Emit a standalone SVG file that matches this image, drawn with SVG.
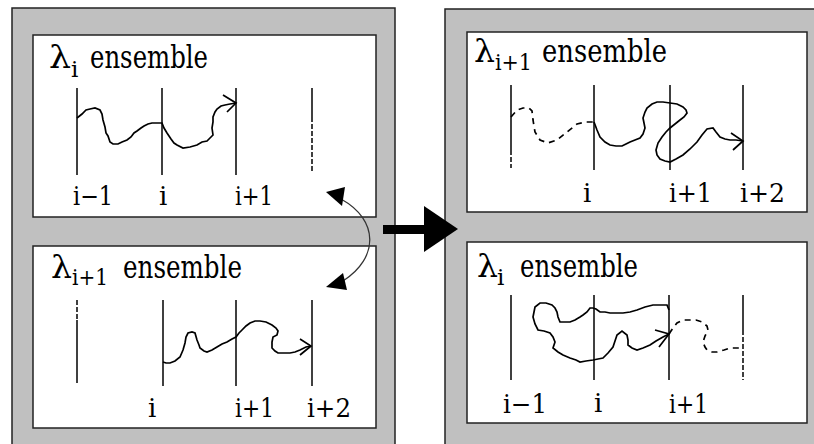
<svg xmlns="http://www.w3.org/2000/svg" width="814" height="444" viewBox="0 0 814 444">
<defs>
<style>
.panel{fill:#c0c0c0;stroke:#222;stroke-width:1.5}
.box{fill:#fff;stroke:#222;stroke-width:1.5}
.ln{stroke:#000;stroke-width:1.5;fill:none}
.dl{stroke:#000;stroke-width:1.5;fill:none;stroke-dasharray:5 2}
.walk{stroke:#000;stroke-width:1.7;fill:none;stroke-linejoin:miter}
.dwalk{stroke:#000;stroke-width:1.7;fill:none;stroke-dasharray:6 5}
.big{font-size:31px}
.sub{font-size:23px}
.lab{font-size:26px}
</style>
</defs>
<rect width="814" height="444" fill="#fff"/>
<g id="left-panel">
<rect class="panel" x="12" y="8" width="383" height="445"/>
</g>
<g id="right-panel">
<rect class="panel" x="445" y="9" width="380" height="445"/>
</g>

<g id="box-left-top" font-family="DejaVu Serif, serif">
<rect class="box" x="33" y="35" width="343" height="182"/>
<text class="big" x="49" y="68" textLength="22" lengthAdjust="spacingAndGlyphs">λ</text><text class="sub" x="71" y="77">i</text>
<text class="big" x="90" y="68" textLength="118" lengthAdjust="spacingAndGlyphs">ensemble</text>
<line class="ln" x1="77" y1="88" x2="77" y2="175"/>
<line class="ln" x1="162" y1="88" x2="162" y2="175"/>
<line class="ln" x1="236" y1="88" x2="236" y2="175"/>
<line class="ln" x1="312" y1="88" x2="312" y2="117"/>
<line class="dl" x1="312" y1="117" x2="312" y2="173"/>
<polyline class="walk" points="77,118 82,114 86,110 90,109 95,108 100,110 102,114 103,120 105,127 106,133 108,136 110,142 113,144 118,144 122,142 127,140 131,137 134,133 137,131 141,128 144,126 148,124 152,123 157,123 162,123 164,128 167,133 171,139 174,143 177,145 183,148 190,147 197,145 202,142 207,141 210,138 213,135 212,128 213,122 213,117 215,112 217,109 221,106 225,105 230,104 236,103"/>
<polyline class="walk" points="223,95 236,103 227,112"/>
<text class="lab" x="73" y="205" textLength="40" lengthAdjust="spacingAndGlyphs">i−1</text>
<text class="lab" x="159" y="205">i</text>
<text class="lab" x="235" y="205" textLength="38" lengthAdjust="spacingAndGlyphs">i+1</text>
</g>

<g id="box-left-bottom" font-family="DejaVu Serif, serif">
<rect class="box" x="33" y="246" width="343" height="182"/>
<text class="big" x="51" y="278" textLength="21" lengthAdjust="spacingAndGlyphs">λ</text><text class="sub" x="72" y="285" textLength="36" lengthAdjust="spacingAndGlyphs">i+1</text>
<text class="big" x="123" y="278" textLength="119" lengthAdjust="spacingAndGlyphs">ensemble</text>
<line class="dl" x1="77" y1="300" x2="77" y2="320"/>
<line class="ln" x1="77" y1="320" x2="77" y2="383"/>
<line class="ln" x1="163" y1="300" x2="163" y2="386"/>
<line class="ln" x1="236" y1="300" x2="236" y2="386"/>
<line class="ln" x1="312" y1="300" x2="312" y2="386"/>
<polyline class="walk" points="163,362 166,363 170,363 175,361 180,357 183,350 185,343 186,337 188,333 192,332 195,333 197,340 199,345 200,348 204,351 207,352 212,350 217,347 222,344 227,342 232,339 236,337 239,333 242,330 246,326 250,323 255,321 260,321 266,322 272,325 276,328 278,331 277,335 273,337 272,342 272,348 275,351 278,353 284,353 290,353 295,352 300,350 306,347 311,346"/>
<polyline class="walk" points="300,339 311,346 300,355"/>
<text class="lab" x="148" y="417">i</text>
<text class="lab" x="235" y="417" textLength="39" lengthAdjust="spacingAndGlyphs">i+1</text>
<text class="lab" x="307" y="417" textLength="44" lengthAdjust="spacingAndGlyphs">i+2</text>
</g>

<g id="box-right-top" font-family="DejaVu Serif, serif">
<rect class="box" x="467" y="32" width="340" height="180"/>
<text class="big" x="474" y="62" textLength="21" lengthAdjust="spacingAndGlyphs">λ</text><text class="sub" x="495" y="70" textLength="37" lengthAdjust="spacingAndGlyphs">i+1</text>
<text class="big" x="542" y="62" textLength="125" lengthAdjust="spacingAndGlyphs">ensemble</text>
<line class="ln" x1="511" y1="85" x2="511" y2="150"/>
<line class="dl" x1="511" y1="150" x2="511" y2="168"/>
<line class="ln" x1="594" y1="85" x2="594" y2="170"/>
<line class="ln" x1="670" y1="85" x2="670" y2="170"/>
<line class="ln" x1="743" y1="85" x2="743" y2="170"/>
<polyline class="dwalk" points="511,117 517,110 523,108 529,108 532,111 533,120 535,132 540,140 548,143 557,140 567,132 577,124 586,122 594,122"/>
<polyline class="walk" points="594,122 597,130 600,137 605,142 610,145 616,146 622,146 626,144 630,142 635,140 640,138 643,134 645,128 644,123 643,118 645,112 647,108 652,104 657,102 663,102 670,103 677,104 683,107 686,110 687,113 684,117 680,120 675,124 670,128 666,132 662,137 658,143 656,150 657,155 660,159 665,161 670,162 676,159 683,155 690,149 697,142 702,135 707,129 713,128 716,132 720,137 725,139 730,140 736,140 743,141"/>
<polyline class="walk" points="731,133 743,141 733,150"/>
<text class="lab" x="583" y="202">i</text>
<text class="lab" x="669" y="202" textLength="43" lengthAdjust="spacingAndGlyphs">i+1</text>
<text class="lab" x="740" y="202" textLength="45" lengthAdjust="spacingAndGlyphs">i+2</text>
</g>

<g id="box-right-bottom" font-family="DejaVu Serif, serif">
<rect class="box" x="467" y="242" width="340" height="181"/>
<text class="big" x="477" y="277" textLength="21" lengthAdjust="spacingAndGlyphs">λ</text><text class="sub" x="497" y="285">i</text>
<text class="big" x="520" y="277" textLength="118" lengthAdjust="spacingAndGlyphs">ensemble</text>
<line class="ln" x1="511" y1="295" x2="511" y2="380"/>
<line class="ln" x1="594" y1="295" x2="594" y2="380"/>
<line class="ln" x1="669" y1="295" x2="669" y2="380"/>
<line class="ln" x1="743" y1="295" x2="743" y2="330"/>
<line class="dl" x1="743" y1="330" x2="743" y2="380"/>
<polyline class="walk" points="669,310 667,305 660,305 653,305 645,307 637,310 630,312 623,313 616,313 610,313 605,312 600,312 596,309 593,308 590,308 587,312 583,315 580,317 575,320 570,322 565,322 560,322 558,317 557,312 555,308 552,305 546,303 540,303 535,307 534,312 533,317 535,324 538,330 544,331 550,333 553,337 555,342 553,348 558,352 563,355 570,358 576,360 580,362 586,361 593,360 598,359 603,358 608,353 613,347 615,341 617,335 622,331 627,335 628,340 628,345 632,348 637,350 643,348 650,345 656,341 663,337 669,334"/>
<polyline class="walk" points="655,330 669,334 659,347"/>
<polyline class="dwalk" points="669,334 673,328 677,323 683,320 690,320 696,320 702,322 707,326 708,330 705,336 703,342 705,347 707,350 712,352 717,352 724,350 730,348 737,348 743,348"/>
<text class="lab" x="503" y="413" textLength="44" lengthAdjust="spacingAndGlyphs">i−1</text>
<text class="lab" x="594" y="412">i</text>
<text class="lab" x="669" y="413" textLength="39" lengthAdjust="spacingAndGlyphs">i+1</text>
</g>

<g id="connectors">
<rect x="383" y="225" width="43" height="9" fill="#000"/>
<polygon points="424,206 458,229 424,252" fill="#000"/>
<path d="M341,199 C379,220 379,258 343,281" fill="none" stroke="#333" stroke-width="1.3"/>
<polygon points="326,192 345,187 342,206" fill="#000"/>
<polygon points="326,287 343,273 347,290" fill="#000"/>
</g>
</svg>
